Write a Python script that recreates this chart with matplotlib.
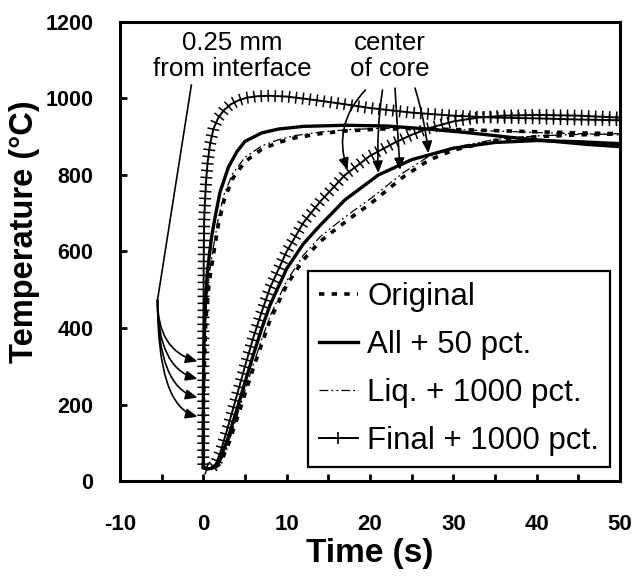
import matplotlib
matplotlib.use("Agg")
import matplotlib.pyplot as plt
from matplotlib.lines import Line2D
import matplotlib.patheffects as pe

plt.rcParams['font.family'] = ['Liberation Sans', 'DejaVu Sans']
plt.rcParams['axes.unicode_minus'] = False

# 0.25 mm from interface
final_iface_t = [0, 0, 0.05, 0.1, 0.2, 0.35, 0.5, 0.8, 1.2, 1.8, 2.5, 3.3, 4.2, 5.2, 6.5, 8, 10, 13, 16, 20, 25, 30, 35, 40, 45, 50]
final_iface_T = [35, 350, 600, 680, 735, 790, 830, 880, 920, 950, 970, 985, 995, 1002, 1006, 1007, 1005, 997, 988, 975, 963, 955, 950, 948, 945, 943]
all_iface_t = [0, 0, 0.05, 0.2, 0.5, 1, 1.5, 2, 3, 4, 5, 7, 9, 12, 17, 22, 27, 32, 37, 42, 46, 50]
all_iface_T = [35, 200, 330, 450, 550, 640, 700, 755, 820, 860, 888, 910, 920, 927, 930, 928, 920, 910, 898, 888, 880, 874]
orig_iface_t = [0, 0, 0.05, 0.3, 0.7, 1.2, 1.8, 2.5, 3.5, 5, 7, 9, 11, 14, 17, 21, 25, 30, 35, 40, 45, 50]
orig_iface_T = [35, 150, 250, 420, 520, 590, 670, 735, 790, 835, 867, 885, 897, 908, 915, 920, 921, 919, 916, 913, 910, 908]
liq_iface_T = [35, 160, 270, 440, 540, 610, 688, 750, 803, 846, 876, 892, 903, 912, 918, 922, 922, 919, 915, 911, 908, 905]

# center of core
final_core_t = [0, 0.5, 1, 1.5, 2, 3, 4, 5, 6, 7, 8, 10, 12, 14, 17, 20, 23, 25, 27, 30, 33, 36, 40, 45, 50]
final_core_T = [35, 32, 35, 45, 72, 145, 222, 300, 375, 442, 505, 600, 675, 730, 800, 850, 885, 905, 922, 940, 950, 955, 957, 955, 950]
all_core_t = [0, 0.5, 1, 1.5, 2, 3, 4, 5, 6, 7, 8, 10, 12, 14, 17, 21, 25, 30, 35, 40, 45, 50]
all_core_T = [35, 32, 33, 40, 55, 115, 185, 258, 330, 398, 460, 555, 620, 668, 735, 800, 840, 870, 885, 890, 887, 882]
orig_core_t = [0, 0.5, 1, 1.5, 2, 3, 4, 5, 6, 7, 8, 10, 12, 14, 16, 18, 20, 24, 27, 30, 35, 40, 45, 50]
orig_core_T = [35, 32, 33, 37, 45, 95, 160, 228, 295, 358, 420, 512, 578, 626, 660, 693, 724, 795, 838, 865, 890, 900, 905, 907]
liq_core_T = [35, 32, 33, 38, 48, 100, 167, 236, 305, 369, 431, 523, 590, 638, 673, 706, 737, 806, 848, 872, 893, 902, 906, 908]

labels = ['Original', 'All + 50 pct.', 'Liq. + 1000 pct.', 'Final + 1000 pct.']

fig = plt.figure(figsize=(6.37, 5.78), dpi=100)
ax = fig.add_axes([0.1884, 0.1678, 0.7849, 0.7942])

orig_style = dict(color='black', lw=2.6, linestyle=(0, (1.5, 2.0)))
all_style = dict(color='black', lw=2.4, linestyle='-')
liq_style = dict(color='black', lw=0.9, linestyle=(0, (7, 2.5, 1.5, 2.5, 1.5, 2.5)))
final_style = dict(color='black', lw=1.4, linestyle='-')

for t, T in [(orig_iface_t, orig_iface_T), (orig_core_t, orig_core_T)]:
    ax.plot(t, T, **orig_style)
for t, T in [(orig_iface_t, liq_iface_T), (orig_core_t, liq_core_T)]:
    ax.plot(t, T, **liq_style)
for t, T in [(all_iface_t, all_iface_T), (all_core_t, all_core_T)]:
    ax.plot(t, T, **all_style)
for t, T in [(final_iface_t, final_iface_T), (final_core_t, final_core_T)]:
    line, = ax.plot(t, T, **final_style)
    line.set_path_effects([
        pe.TickedStroke(spacing=5, angle=90, length=0.75, linewidth=1.1),
        pe.TickedStroke(spacing=5, angle=-90, length=0.75, linewidth=1.1), pe.Normal()])

ax.set_xlim(-10, 50)
ax.set_ylim(0, 1200)
ax.set_xticks(range(-10, 51, 10))
ax.set_xticks(range(-10, 51, 5), minor=True)
ax.set_yticks(range(0, 1201, 200))
ax.tick_params(axis='both', which='both', direction='in', length=5, width=2,
               top=False, right=False)
ax.tick_params(axis='x', which='major', pad=24, labelsize=16)
ax.tick_params(axis='y', which='major', pad=19, labelsize=15.5)
for lab in ax.get_xticklabels() + ax.get_yticklabels():
    lab.set_fontweight('bold')
for s in ax.spines.values():
    s.set_linewidth(2.2)

ax.set_xlabel('Time (s)', fontsize=24, fontweight='bold', labelpad=2)
ax.set_ylabel('Temperature (°C)', fontsize=23.5, fontweight='bold', va='center')
ax.yaxis.set_label_coords(-0.192, 0.544)

# annotations
ax.text(3.5, 1111, '0.25 mm\nfrom interface', ha='center', va='center', fontsize=18.6, linespacing=1.15)
ax.text(22.4, 1111, 'center\nof core', ha='center', va='center', fontsize=18.6, linespacing=1.15)

ax.plot([-1.44, -5.5], [1035, 473], color='black', lw=1.2)
for tipT in [313, 267, 218, 168]:
    ax.annotate('', xy=(-0.7, tipT), xytext=(-5.5, 473),
                arrowprops=dict(arrowstyle='-|>,head_length=0.7,head_width=0.3', color='black', lw=1.2,
                                shrinkA=0, shrinkB=0,
                                connectionstyle='angle3,angleA=-90,angleB=-15'))

core_arrows = [((19.45, 1022), (17.3, 813), 0.3),
               ((21.5, 1022), (21.0, 805), 0.05),
               ((23.0, 1027), (23.6, 813), 0.0),
               ((25.4, 1027), (27.0, 857), -0.05)]
for start, tip, rad in core_arrows:
    ax.annotate('', xy=tip, xytext=start,
                arrowprops=dict(arrowstyle='-|>,head_length=0.7,head_width=0.3', color='black', lw=1.2,
                                shrinkA=0, shrinkB=0,
                                connectionstyle='arc3,rad=%s' % rad))

handles = [Line2D([], [], **orig_style),
           Line2D([], [], **all_style),
           Line2D([], [], **liq_style),
           Line2D([], [], color='black', lw=1.4, marker='+', markersize=9, markeredgewidth=1.2)]
leg = ax.legend(handles, labels, loc='lower right', bbox_to_anchor=(0.98, 0.03),
                fontsize=22.5, frameon=True, fancybox=False, handlelength=1.25,
                handletextpad=0.3, borderpad=0.35, labelspacing=0.58, borderaxespad=0, numpoints=1)
leg.get_frame().set_edgecolor('black')
leg.get_frame().set_linewidth(1.6)
leg.get_frame().set_alpha(1)

fig.savefig('out.png', dpi=100)
